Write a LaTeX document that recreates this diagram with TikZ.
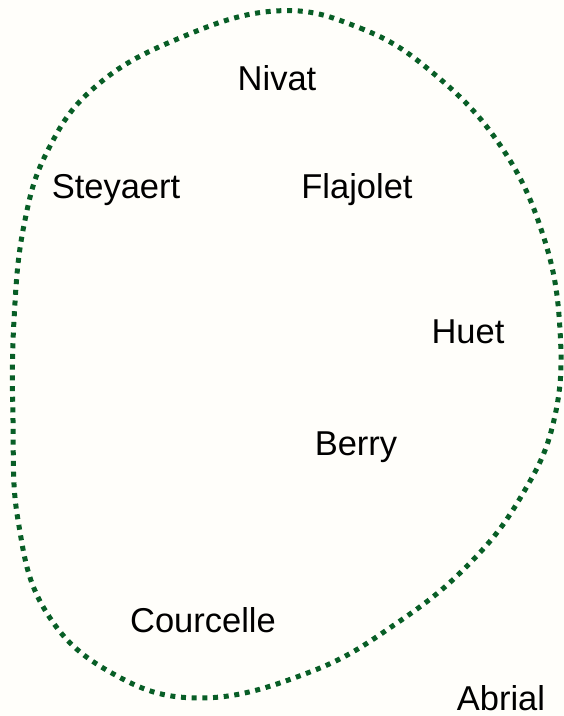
\documentclass[tikz,border=0pt]{standalone}
\usepackage{fontspec}
\setmainfont{Liberation Sans}
\usepackage{xcolor}
\usepackage{tikz}
\usetikzlibrary{positioning}

\definecolor{paper}{RGB}{255,254,250}
\definecolor{blobgreen}{RGB}{8,94,38}

\begin{document}
\begin{tikzpicture}[
  x=1pt, y=-1pt,
  person/.style={anchor=base, inner sep=0pt, font=\fontsize{34.5}{40}\selectfont},
  blob/.style={blobgreen, line width=5pt, dash pattern=on 5pt off 5.7pt}
]
\fill[paper] (0,0) rectangle (564,716);
\useasboundingbox (0,0) rectangle (564,716);

\node[person] (nivat) at (277,90) {Nivat};
\node[person] (steyaert) at (116,198) {Steyaert};
\node[person] (flajolet) at (357,198) {Flajolet};
\node[person] (huet) at (468,343) {Huet};
\node[person] (berry) at (356,455) {Berry};
\node[person] (courcelle) at (203,632) {Courcelle};
\node[person] (abrial) at (501,710) {Abrial};

% the dotted blob round the group
\draw[blob] plot[smooth cycle, tension=0.7] coordinates {
  (275,11) (360,28) (433,73) (500,145) (543,235) (560,330) (554,420)
  (522,495) (470,563) (397,623) (310,672) (200,698) (110,672) (45,610)
  (18,520) (13,420) (14,320) (24,225) (48,150) (95,87) (175,40)};
\end{tikzpicture}
\end{document}
